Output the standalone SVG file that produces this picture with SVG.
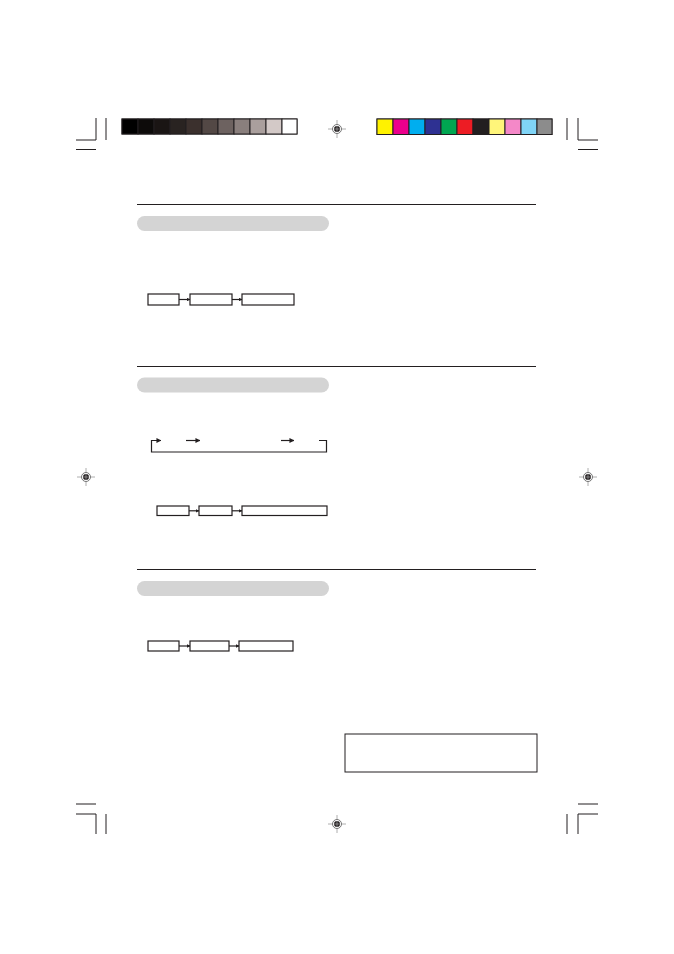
<svg xmlns="http://www.w3.org/2000/svg" width="674" height="954" viewBox="0 0 674 954">
<style>
.crop{stroke:#231f20;stroke-width:1;fill:none}
.rule{stroke:#231f20;stroke-width:1}
.bar{fill:#d4d4d4}
.box{fill:#fff;stroke:#231f20;stroke-width:1.2}
.conn{stroke:#231f20;stroke-width:1.2;fill:none}
.sw{stroke:#231f20;stroke-width:1}
.regl{stroke:#9a9a9a;stroke-width:0.8}
</style>
<defs>
<marker id="ah" viewBox="0 0 6 6" refX="5.5" refY="3" markerWidth="5" markerHeight="5" orient="auto" markerUnits="userSpaceOnUse">
<path d="M0,0 L6,3 L0,6 Z" fill="#231f20"/>
</marker>
<marker id="ahs" viewBox="0 0 6 6" refX="5.5" refY="3" markerWidth="3.5" markerHeight="3.5" orient="auto" markerUnits="userSpaceOnUse">
<path d="M0,0 L6,3 L0,6 Z" fill="#231f20"/>
</marker>
<g id="reg">
<line class="regl" x1="-9" y1="0" x2="9" y2="0"/>
<line class="regl" x1="0" y1="-9" x2="0" y2="9"/>
<circle r="4.5" fill="#fff" stroke="#555" stroke-width="0.8"/>
<circle r="3" fill="#231f20"/>
<line x1="-3" y1="0" x2="3" y2="0" stroke="#bbb" stroke-width="0.6"/>
<line x1="0" y1="-3" x2="0" y2="3" stroke="#bbb" stroke-width="0.6"/>
</g>
</defs>
<rect width="674" height="954" fill="#fff"/>

<g id="crop-marks">
<path class="crop" d="M76,140 H96 V118"/>
<line class="crop" x1="106" y1="118" x2="106" y2="140"/>
<line class="crop" x1="76" y1="149.5" x2="96" y2="149.5"/>
<path class="crop" d="M598,140 H578 V118"/>
<line class="crop" x1="567" y1="118" x2="567" y2="140"/>
<line class="crop" x1="578" y1="149.5" x2="598" y2="149.5"/>
<path class="crop" d="M76,814 H96 V834"/>
<line class="crop" x1="106" y1="814" x2="106" y2="834"/>
<line class="crop" x1="76" y1="804" x2="96" y2="804"/>
<path class="crop" d="M598,814 H578 V834"/>
<line class="crop" x1="567" y1="814" x2="567" y2="834"/>
<line class="crop" x1="578" y1="804" x2="598" y2="804"/>
</g>

<g id="reg-marks">
<use href="#reg" x="337" y="129"/>
<use href="#reg" x="337" y="824"/>
<use href="#reg" x="86" y="477"/>
<use href="#reg" x="588" y="477"/>
</g>

<g id="gray-strip">
<rect x="121.5" y="118.5" width="176" height="16" fill="#231f20"/>
<rect class="sw" x="122" y="119" width="16" height="15" fill="#000000"/>
<rect class="sw" x="138" y="119" width="16" height="15" fill="#0d0b0a"/>
<rect class="sw" x="154" y="119" width="16" height="15" fill="#1a1514"/>
<rect class="sw" x="170" y="119" width="16" height="15" fill="#292321"/>
<rect class="sw" x="186" y="119" width="16" height="15" fill="#3b302d"/>
<rect class="sw" x="202" y="119" width="16" height="15" fill="#534845"/>
<rect class="sw" x="218" y="119" width="16" height="15" fill="#6d6260"/>
<rect class="sw" x="234" y="119" width="16" height="15" fill="#8a7f7d"/>
<rect class="sw" x="250" y="119" width="16" height="15" fill="#aa9f9d"/>
<rect class="sw" x="266" y="119" width="16" height="15" fill="#d3c9c7"/>
<rect class="sw" x="282" y="119" width="15" height="15" fill="#ffffff"/>
</g>

<g id="color-strip">
<rect x="376.5" y="118.5" width="176" height="16.5" fill="#231f20"/>
<rect class="sw" x="377" y="119" width="16" height="15.5" fill="#fff200"/>
<rect class="sw" x="393" y="119" width="16" height="15.5" fill="#ec008c"/>
<rect class="sw" x="409" y="119" width="16" height="15.5" fill="#00aeef"/>
<rect class="sw" x="425" y="119" width="16" height="15.5" fill="#2e3192"/>
<rect class="sw" x="441" y="119" width="16" height="15.5" fill="#00a651"/>
<rect class="sw" x="457" y="119" width="16" height="15.5" fill="#ed1c24"/>
<rect class="sw" x="473" y="119" width="16" height="15.5" fill="#231f20"/>
<rect class="sw" x="489" y="119" width="16" height="15.5" fill="#fff57a"/>
<rect class="sw" x="505" y="119" width="16" height="15.5" fill="#f488c8"/>
<rect class="sw" x="521" y="119" width="16" height="15.5" fill="#80d4f6"/>
<rect class="sw" x="537" y="119" width="15" height="15.5" fill="#8c8c8c"/>
</g>

<g id="section-1">
<line class="rule" x1="137" y1="204.5" x2="536" y2="204.5"/>
<rect class="bar" x="137" y="216" width="192" height="15" rx="7.5"/>
</g>
<g id="section-2">
<line class="rule" x1="137" y1="366.5" x2="536" y2="366.5"/>
<rect class="bar" x="137" y="377.5" width="192" height="15" rx="7.5"/>
</g>
<g id="section-3">
<line class="rule" x1="137" y1="569.5" x2="536" y2="569.5"/>
<rect class="bar" x="137" y="581" width="192" height="15" rx="7.5"/>
</g>

<g id="flow1-box1"><rect class="box" x="148" y="294" width="31" height="11"/></g>
<g id="flow1-box2"><rect class="box" x="190" y="294" width="42" height="11"/></g>
<g id="flow1-box3"><rect class="box" x="242" y="294" width="52" height="11"/></g>

<g id="flow2-box1"><rect class="box" x="157" y="506" width="32" height="9.5"/></g>
<g id="flow2-box2"><rect class="box" x="199" y="506" width="33" height="9.5"/></g>
<g id="flow2-box3"><rect class="box" x="242" y="506" width="85" height="9.5"/></g>

<g id="flow3-box1"><rect class="box" x="148" y="641" width="31" height="10"/></g>
<g id="flow3-box2"><rect class="box" x="190" y="641" width="39" height="10"/></g>
<g id="flow3-box3"><rect class="box" x="239" y="641" width="54" height="10"/></g>

<g id="note-box"><rect x="345" y="734" width="192" height="38" fill="#fff" stroke="#231f20" stroke-width="1"/></g>

<g id="connectors">
<line class="conn" x1="179" y1="299.5" x2="190" y2="299.5" marker-end="url(#ahs)"/>
<line class="conn" x1="232" y1="299.5" x2="242" y2="299.5" marker-end="url(#ahs)"/>
<line class="conn" x1="189" y1="510.8" x2="199" y2="510.8" marker-end="url(#ahs)"/>
<line class="conn" x1="232" y1="510.8" x2="242" y2="510.8" marker-end="url(#ahs)"/>
<line class="conn" x1="179" y1="646" x2="190" y2="646" marker-end="url(#ahs)"/>
<line class="conn" x1="229" y1="646" x2="239" y2="646" marker-end="url(#ahs)"/>
<path class="conn" d="M319,440.5 H326.5 V452 H151.5 V440.5 H161" marker-end="url(#ah)"/>
<line class="conn" x1="186" y1="440.5" x2="200" y2="440.5" marker-end="url(#ah)"/>
<line class="conn" x1="281" y1="440.5" x2="294" y2="440.5" marker-end="url(#ah)"/>
</g>
</svg>
